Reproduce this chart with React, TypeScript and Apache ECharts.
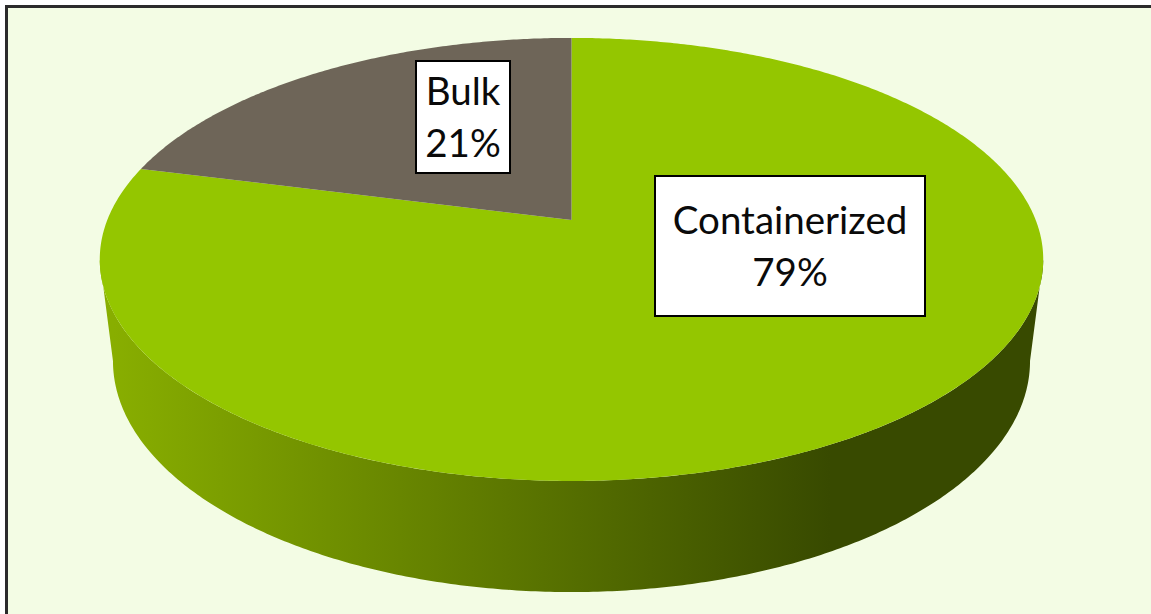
import React, { useEffect, useRef } from "react";
import * as echarts from "echarts";

const categories = ["Containerized", "Bulk"];
const shares = [79, 21];

const topColors = ["#94c600", "#6e6558"];
const FONT = "Lato, Carlito, Calibri, sans-serif";

// Perspective of the disc: ring centre, radii and foreshortening
const K = 0.178;
const topRing = { cx: 571.5, cy: 220, a: 464.2, b: 214.5 };
const baseRing = { cx: 571.5, cy: 319.9, a: 451.2, b: 223.7 };

const labelBoxes = [
  { x: 655, y: 176, width: 270, height: 140 },
  { x: 416, y: 61, width: 94, height: 112 },
];

type Ring = typeof topRing;

function project(ring: Ring, deg: number): number[] {
  const t = (deg * Math.PI) / 180;
  const u = Math.sin(t);
  const v = Math.cos(t);
  const w = 1 + K * v;
  return [ring.cx + (ring.a * u) / w, ring.cy - (ring.b * v) / w];
}

function arc(ring: Ring, from: number, to: number): number[][] {
  const out: number[][] = [];
  const steps = Math.max(2, Math.ceil(Math.abs(to - from) * 2));
  for (let i = 0; i <= steps; i++) out.push(project(ring, from + ((to - from) * i) / steps));
  return out;
}

const FRONT_START = 90 + (Math.asin(K) * 180) / Math.PI;
const FRONT_END = 270 - (Math.asin(K) * 180) / Math.PI;

const sideFill = {
  type: "linear",
  x: 113,
  y: 0,
  x2: 830,
  y2: 0,
  global: true,
  colorStops: [
    { offset: 0, color: "#88ae00" },
    { offset: 1, color: "#384a00" },
  ],
};

function renderSlice(params: any, api: any) {
  const i = params.dataIndex;
  const total = shares.reduce((s, v) => s + v, 0);
  const before = shares.slice(0, i).reduce((s, v) => s + v, 0);
  const start = (before / total) * 360;
  const end = start + (api.value(0) / total) * 360;
  const children: any[] = [];

  const s0 = Math.max(start, FRONT_START);
  const s1 = Math.min(end, FRONT_END);
  if (s1 > s0) {
    children.push({
      type: "polygon",
      shape: { points: [...arc(topRing, s0, s1), ...arc(baseRing, s1, s0)] },
      style: { fill: sideFill },
    });
  }

  children.push({
    type: "polygon",
    shape: { points: [[topRing.cx, topRing.cy], ...arc(topRing, start, end)] },
    style: { fill: topColors[i] },
  });
  return { type: "group", children };
}

function renderLabel(params: any, api: any) {
  const i = params.dataIndex;
  const box = labelBoxes[i];
  const mid = box.x + box.width / 2;
  const line = (text: string, baseline: number) => ({
    type: "text",
    x: mid,
    y: baseline,
    style: {
      text,
      fill: "#0a0a0a",
      font: `38.5px ${FONT}`,
      textAlign: "center",
      textVerticalAlign: "bottom",
    },
  });
  const centre = box.y + box.height / 2;
  return {
    type: "group",
    children: [
      {
        type: "rect",
        shape: { x: box.x, y: box.y, width: box.width, height: box.height },
        style: { fill: "#ffffff", stroke: "#000000", lineWidth: 2 },
      },
      line(categories[i], centre - 8),
      line(`${api.value(0)}%`, centre + 44),
    ],
  };
}

export default function App() {
  const ref = useRef<HTMLDivElement>(null);
  useEffect(() => {
    document.body.style.margin = "0";
    const chart = echarts.init(ref.current!, null, { renderer: "svg" });
    const data = categories.map((name, i) => ({ name, value: [shares[i]] }));
    chart.setOption({
      animation: false,
      backgroundColor: "#ffffff",
      graphic: [
        { type: "rect", z: -2, silent: true, shape: { x: 5, y: 5, width: 1146, height: 609 }, style: { fill: "#2b2b2b" } },
        { type: "rect", z: -1, silent: true, shape: { x: 8, y: 8, width: 1143, height: 606 }, style: { fill: "#f3fce4" } },
      ],
      series: [
        { type: "custom", coordinateSystem: "none", z: 2, silent: true, renderItem: renderSlice, data },
        { type: "custom", coordinateSystem: "none", z: 3, silent: true, renderItem: renderLabel, data },
      ],
    });
    return () => chart.dispose();
  }, []);
  return <div ref={ref} style={{ position: "absolute", left: 0, top: 0, width: 1151, height: 614 }} />;
}
